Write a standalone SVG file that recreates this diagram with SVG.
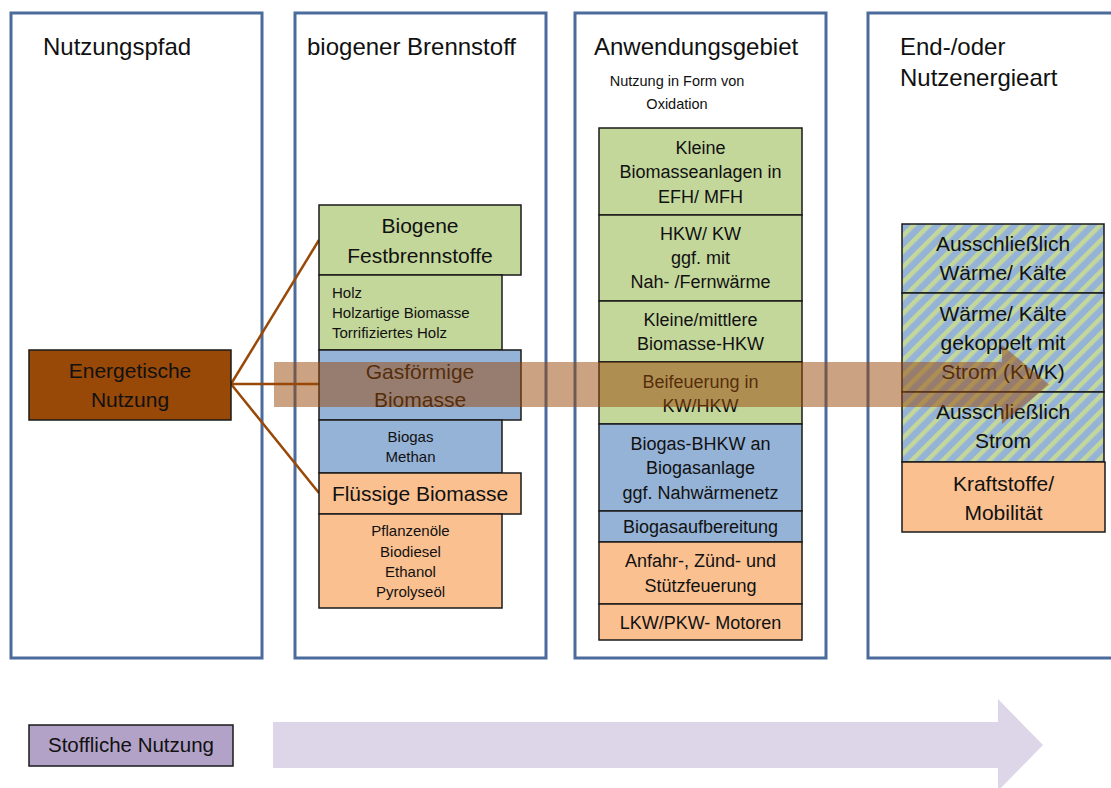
<svg xmlns="http://www.w3.org/2000/svg" width="1111" height="788" viewBox="0 0 1111 788">
<defs>
<pattern id="hatch" width="11" height="11" patternUnits="userSpaceOnUse" patternTransform="rotate(45)">
<rect width="11" height="11" fill="#95b3d7"/>
<rect width="4.5" height="11" fill="#c4d79b"/>
</pattern>
<style>
text{font-family:"Liberation Sans",Arial,sans-serif;fill:#111;}
.frame{fill:#fff;stroke:#4a6b9c;stroke-width:3;}
.box{stroke:#1a1a1a;stroke-width:1.5;}
.g{fill:#c4d79b;}
.b{fill:#95b3d7;}
.o{fill:#fac090;}
.h{fill:url(#hatch);}
.hd{font-size:24px;}
.sub{font-size:14.5px;text-anchor:middle;}
.big{font-size:21px;text-anchor:middle;}
.mid{font-size:18px;text-anchor:middle;}
.sm{font-size:15px;text-anchor:middle;}
.sml{font-size:15px;}
.conn{stroke:#984807;stroke-width:2.5;fill:none;}
</style>
</defs>
<rect width="1111" height="788" fill="#fff"/>

<g id="columns">
<rect class="frame" x="11" y="13" width="251" height="645"/>
<rect class="frame" x="295" y="13" width="251" height="645"/>
<rect class="frame" x="575" y="13" width="251" height="645"/>
<rect class="frame" x="868" y="13" width="260" height="645"/>
<text class="hd" x="43" y="55">Nutzungspfad</text>
<text class="hd" x="307" y="55">biogener Brennstoff</text>
<text class="hd" x="594" y="55">Anwendungsgebiet</text>
<text class="sub" x="677" y="86">Nutzung in Form von</text>
<text class="sub" x="677" y="109">Oxidation</text>
<text class="hd" x="900" y="55">End-/oder</text>
<text class="hd" x="900" y="86">Nutzenergieart</text>
</g>

<g id="connectors">
<line class="conn" x1="231" y1="384" x2="319" y2="240"/>
<line class="conn" x1="231" y1="384" x2="319" y2="384"/>
<line class="conn" x1="231" y1="384" x2="319" y2="493"/>
</g>

<g id="energetische-nutzung">
<rect class="box" x="29" y="350" width="202" height="70" fill="#984807"/>
<text class="big" x="130" y="378">Energetische</text>
<text class="big" x="130" y="407">Nutzung</text>
</g>

<g id="festbrennstoffe">
<rect class="box g" x="319" y="205" width="202" height="70"/>
<text class="big" x="420" y="233">Biogene</text>
<text class="big" x="420" y="263">Festbrennstoffe</text>
</g>
<g id="holz">
<rect class="box g" x="319" y="275" width="183" height="75"/>
<text class="sml" x="332" y="298">Holz</text>
<text class="sml" x="332" y="318">Holzartige Biomasse</text>
<text class="sml" x="332" y="338">Torrifiziertes Holz</text>
</g>
<g id="gasfoermig">
<rect class="box b" x="319" y="350" width="202" height="70"/>
<text class="big" x="420" y="379">Gasförmige</text>
<text class="big" x="420" y="407">Biomasse</text>
</g>
<g id="biogas">
<rect class="box b" x="319" y="420" width="183" height="53"/>
<text class="sm" x="410.5" y="442">Biogas</text>
<text class="sm" x="410.5" y="462">Methan</text>
</g>
<g id="fluessig">
<rect class="box o" x="319" y="473" width="202" height="41"/>
<text class="big" x="420" y="501">Flüssige Biomasse</text>
</g>
<g id="pflanzenoele">
<rect class="box o" x="319" y="514" width="183" height="94"/>
<text class="sm" x="410.5" y="536">Pflanzenöle</text>
<text class="sm" x="410.5" y="557">Biodiesel</text>
<text class="sm" x="410.5" y="577">Ethanol</text>
<text class="sm" x="410.5" y="597">Pyrolyseöl</text>
</g>

<g id="kleine-anlagen">
<rect class="box g" x="599" y="128" width="203" height="87"/>
<text class="mid" x="700.5" y="154">Kleine</text>
<text class="mid" x="700.5" y="178">Biomasseanlagen in</text>
<text class="mid" x="700.5" y="203">EFH/ MFH</text>
</g>
<g id="hkw-kw">
<rect class="box g" x="599" y="215" width="203" height="86"/>
<text class="mid" x="700.5" y="240">HKW/ KW</text>
<text class="mid" x="700.5" y="264">ggf. mit</text>
<text class="mid" x="700.5" y="288">Nah- /Fernwärme</text>
</g>
<g id="kleine-mittlere">
<rect class="box g" x="599" y="301" width="203" height="61"/>
<text class="mid" x="700.5" y="326">Kleine/mittlere</text>
<text class="mid" x="700.5" y="350">Biomasse-HKW</text>
</g>
<g id="beifeuerung">
<rect class="box g" x="599" y="362" width="203" height="62"/>
<text class="mid" x="700.5" y="388">Beifeuerung in</text>
<text class="mid" x="700.5" y="412">KW/HKW</text>
</g>
<g id="biogas-bhkw">
<rect class="box b" x="599" y="424" width="203" height="87"/>
<text class="mid" x="700.5" y="450">Biogas-BHKW an</text>
<text class="mid" x="700.5" y="474">Biogasanlage</text>
<text class="mid" x="700.5" y="499">ggf. Nahwärmenetz</text>
</g>
<g id="biogasaufbereitung">
<rect class="box b" x="599" y="511" width="203" height="31"/>
<text class="mid" x="700.5" y="533">Biogasaufbereitung</text>
</g>
<g id="anfahr">
<rect class="box o" x="599" y="542" width="203" height="62"/>
<text class="mid" x="700.5" y="567">Anfahr-, Zünd- und</text>
<text class="mid" x="700.5" y="592">Stützfeuerung</text>
</g>
<g id="motoren">
<rect class="box o" x="599" y="604" width="203" height="36"/>
<text class="mid" x="700.5" y="629">LKW/PKW- Motoren</text>
</g>

<g id="waerme-kaelte">
<rect class="box h" x="902" y="224" width="202" height="69"/>
<text class="big" x="1003" y="251">Ausschließlich</text>
<text class="big" x="1003" y="280">Wärme/ Kälte</text>
</g>
<g id="kwk">
<rect class="box h" x="902" y="293" width="202" height="99"/>
<text class="big" x="1003" y="321">Wärme/ Kälte</text>
<text class="big" x="1003" y="350">gekoppelt mit</text>
<text class="big" x="1003" y="379">Strom (KWK)</text>
</g>
<g id="strom">
<rect class="box h" x="902" y="392" width="202" height="70"/>
<text class="big" x="1003" y="419">Ausschließlich</text>
<text class="big" x="1003" y="448">Strom</text>
</g>
<g id="kraftstoffe">
<rect class="box o" x="902" y="462" width="203" height="70"/>
<text class="big" x="1003.5" y="491">Kraftstoffe/</text>
<text class="big" x="1003.5" y="520">Mobilität</text>
</g>

<g id="energie-pfeil">
<path d="M274,362 H1002 V345 L1049,384.5 L1002,424 V407 H274 Z" fill="#984807" fill-opacity="0.5"/>
</g>

<g id="stoffliche-nutzung">
<rect class="box" x="29" y="725" width="204" height="41" fill="#b3a2c7"/>
<text x="131" y="752" style="font-size:20.5px;text-anchor:middle">Stoffliche Nutzung</text>
</g>
<g id="stoff-pfeil">
<path d="M273,722 H998 V699 L1043,745 L998,791 V768 H273 Z" fill="#dcd6e8"/>
</g>
</svg>
